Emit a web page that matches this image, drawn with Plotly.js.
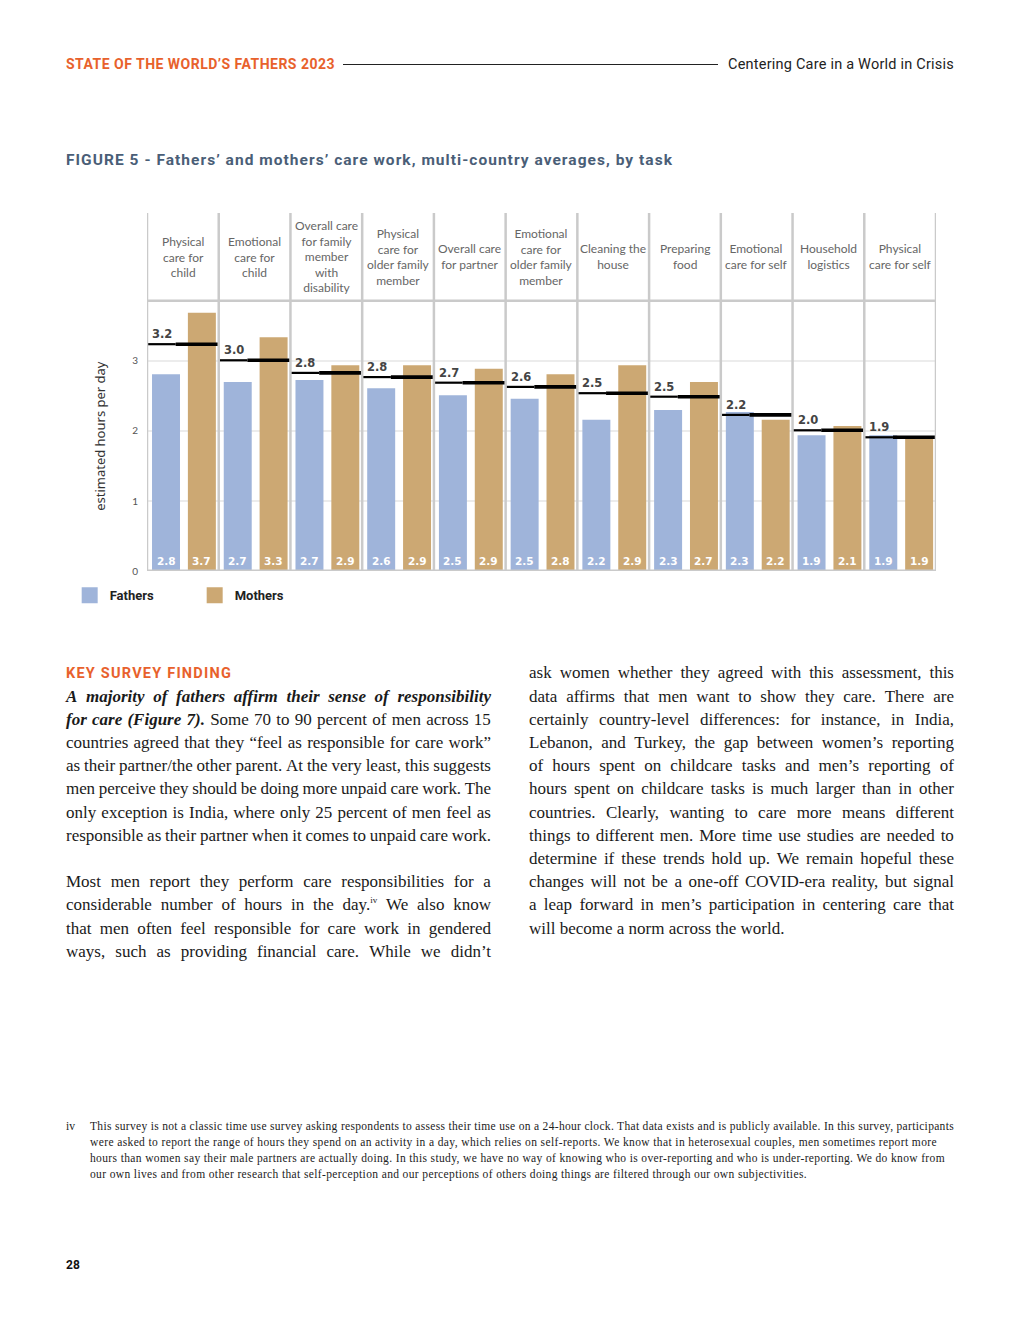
<!DOCTYPE html>
<html><head><meta charset="utf-8">
<script src="https://cdn.plot.ly/plotly-3.0.1.min.js"></script>
<style>
body{margin:0;width:1020px;height:1320px;background:#fff;position:relative;overflow:hidden;font-family:"Liberation Serif",serif;color:#1a1a1a;}
.abs{position:absolute;white-space:nowrap;}
#hdrL{left:66px;top:56px;font:700 14px Roboto,sans-serif;color:#e8612c;line-height:16px;}
#hdrLine{left:343px;top:64px;width:375px;height:1px;background:#222;}
#hdrR{left:728px;top:57px;font:400 14.5px Roboto,sans-serif;color:#222;line-height:16px;}
#figT{left:66px;top:151px;font:700 15.5px Roboto,sans-serif;color:#4a5e77;line-height:18px;}
#chart{position:absolute;left:0;top:190px;width:1020px;height:480px;}
.key{font:700 14.5px Roboto,sans-serif;color:#e8612c;}
.ln{position:absolute;height:23.2px;line-height:23.2px;font-size:17px;white-space:nowrap;}
.just{display:flex;justify-content:space-between;}
.bi{font-weight:700;font-style:italic;}
sup{font-size:9px;line-height:0;vertical-align:7px;}
.fn{position:absolute;font-size:11.5px;line-height:16px;white-space:nowrap;color:#222;}
#pnum{left:66px;top:1258px;font:700 12px Roboto,sans-serif;color:#111;}
</style></head><body>
<div id="hdrL" class="abs">STATE OF THE WORLD’S FATHERS 2023</div>
<div id="hdrLine" class="abs"></div>
<div id="hdrR" class="abs">Centering Care in a World in Crisis</div>
<div id="figT" class="abs">FIGURE 5 - Fathers’ and mothers’ care work, multi-country averages, by task</div>
<div id="chart"></div>
<div id="body"></div>
<div id="pnum" class="abs">28</div>
<script>
// ---- data ----
const categories = ["Physical<br>care for<br>child","Emotional<br>care for<br>child","Overall care<br>for family<br>member<br>with<br>disability","Physical<br>care for<br>older family<br>member","Overall care<br>for partner","Emotional<br>care for<br>older family<br>member","Cleaning the<br>house","Preparing<br>food","Emotional<br>care for self","Household<br>logistics","Physical<br>care for self"];
const fathers = [2.81,2.70,2.73,2.61,2.51,2.46,2.16,2.30,2.27,1.94,1.94];
const mothers = [3.69,3.34,2.94,2.94,2.89,2.81,2.94,2.70,2.16,2.07,1.90];
const averages = [3.24,3.01,2.83,2.77,2.69,2.63,2.54,2.49,2.23,2.01,1.91];
const yTicks = [0,1,2,3];
const seriesNames = ["Fathers","Mothers"];
const seriesColors = ['#9fb4da','#cca873'];
const yTitle = "estimated hours per day";

// ---- chart ----
const idx = categories.map((c,i)=>i);
const FW=0.39, FO=-0.43, MO=0.07;
const yTop = 5.114, headerBottom = 3.86, headerMid = 4.49;
const thinX=[],thinY=[],thickX=[],thickY=[];
averages.forEach((a,i)=>{thinX.push(i-0.5,i-0.1,null);thinY.push(a,a,null);thickX.push(i-0.1,i+0.5,null);thickY.push(a,a,null);});
const traces = [
 {type:'bar',x:idx,y:fathers,width:FW,offset:FO,name:seriesNames[0],marker:{color:seriesColors[0]},hoverinfo:'skip',showlegend:false},
 {type:'bar',x:idx,y:mothers,width:FW,offset:MO,name:seriesNames[1],marker:{color:seriesColors[1]},hoverinfo:'skip',showlegend:false},
 {type:'scatter',mode:'lines',x:thinX,y:thinY,line:{color:'#000',width:2.2},showlegend:false,hoverinfo:'skip'},
 {type:'scatter',mode:'lines',x:thickX,y:thickY,line:{color:'#000',width:3.6},showlegend:false,hoverinfo:'skip'},
 {type:'scatter',mode:'markers',x:[null],y:[null],name:seriesNames[0],marker:{symbol:'square',size:17,color:seriesColors[0]},showlegend:true},
 {type:'scatter',mode:'markers',x:[null],y:[null],name:seriesNames[1],marker:{symbol:'square',size:17,color:seriesColors[1]},showlegend:true}
];
const shapes=[];
for(let i=0;i<=categories.length;i++){
 shapes.push({type:'line',xref:'x',yref:'paper',x0:i-0.5,x1:i-0.5,y0:0,y1:1,line:{color:'#cacaca',width:2.5}});
}
shapes.push({type:'line',xref:'paper',yref:'y',x0:0,x1:1,y0:headerBottom,y1:headerBottom,line:{color:'#cacaca',width:2.5}});
shapes.push({type:'line',xref:'paper',yref:'y',x0:0,x1:1,y0:0,y1:0,line:{color:'#cacaca',width:3}});
const ann=[];
categories.forEach((c,i)=>{
 ann.push({x:i,y:headerMid,xref:'x',yref:'y',text:c,showarrow:false,font:{family:'Lato',size:12,color:'#666'},align:'center'});
 ann.push({x:i-0.5,y:averages[i],xref:'x',yref:'y',xanchor:'left',yanchor:'bottom',xshift:3,yshift:1,text:'<b>'+averages[i].toFixed(1)+'</b>',showarrow:false,font:{family:'DejaVu Sans',size:11.5,color:'#444'}});
 ann.push({x:i+FO+FW/2,y:0,xref:'x',yref:'y',yanchor:'bottom',yshift:2,text:'<b>'+fathers[i].toFixed(1)+'</b>',showarrow:false,font:{family:'DejaVu Sans',size:10.5,color:'#fff'}});
 ann.push({x:i+MO+FW/2,y:0,xref:'x',yref:'y',yanchor:'bottom',yshift:2,text:'<b>'+mothers[i].toFixed(1)+'</b>',showarrow:false,font:{family:'DejaVu Sans',size:10.5,color:'#fff'}});
});
ann.push({xref:'paper',yref:'y',x:-0.0596,y:headerBottom/2,text:yTitle,textangle:-90,showarrow:false,xanchor:'center',yanchor:'middle',font:{family:'Noto Sans',size:13,color:'#333'}});
const layout={
 width:1020,height:480,margin:{l:147,r:84,t:23,b:99},
 paper_bgcolor:'rgba(0,0,0,0)',plot_bgcolor:'rgba(0,0,0,0)',
 barmode:'overlay',showlegend:true,
 xaxis:{range:[-0.5,categories.length-0.5],showticklabels:false,showgrid:false,zeroline:false,showline:false,fixedrange:true},
 yaxis:{range:[0,yTop],tickvals:yTicks,ticktext:yTicks.map(String),showgrid:true,gridcolor:'#ececec',gridwidth:1.5,zeroline:false,showline:false,ticks:'',ticklabelstandoff:8,
  tickfont:{family:'Lato',size:10,color:'#555'},automargin:false},
 legend:{orientation:'h',x:-0.098,y:-0.026,xanchor:'left',yanchor:'top',font:{family:'Roboto',size:13,color:'#222',weight:700},entrywidth:80,entrywidthmode:'pixels',traceorder:'normal'},
 shapes:shapes,annotations:ann
};
Plotly.newPlot('chart',traces,layout,{displayModeBar:false,staticPlot:true});

// ---- body text ----
const leftLines=[
 {t:'KEY SURVEY FINDING',key:1},
 {t:'*A *majority *of *fathers *affirm *their *sense *of *responsibility',j:1},
 {t:'*for *care *(Figure *7). Some 70 to 90 percent of men across 15',j:1},
 {t:'countries agreed that they “feel as responsible for care work”',j:1},
 {t:'as their partner/the other parent. At the very least, this suggests',j:1},
 {t:'men perceive they should be doing more unpaid care work. The',j:1},
 {t:'only exception is India, where only 25 percent of men feel as',j:1},
 {t:'responsible as their partner when it comes to unpaid care work.',j:1},
 null,
 {t:'Most men report they perform care responsibilities for a',j:1},
 {t:'considerable number of hours in the day.^iv We also know',j:1},
 {t:'that men often feel responsible for care work in gendered',j:1},
 {t:'ways, such as providing financial care. While we didn’t',j:1}
];
const rightLines=[
 'ask women whether they agreed with this assessment, this',
 'data affirms that men want to show they care. There are',
 'certainly country-level differences: for instance, in India,',
 'Lebanon, and Turkey, the gap between women’s reporting',
 'of hours spent on childcare tasks and men’s reporting of',
 'hours spent on childcare tasks is much larger than in other',
 'countries. Clearly, wanting to care more means different',
 'things to different men. More time use studies are needed to',
 'determine if these trends hold up. We remain hopeful these',
 'changes will not be a one-off COVID-era reality, but signal',
 'a leap forward in men’s participation in centering care that',
 'will become a norm across the world.'
].map((t,i,a)=>({t:t,j:i<a.length-1?1:0}));
const bodyEl=document.getElementById('body');
function wordHtml(w){
 let bi=false; if(w[0]==='*'){bi=true;w=w.slice(1);}
 w=w.replace('^iv','<sup>iv</sup>');
 return bi?'<span class="bi">'+w+'</span>':'<span>'+w+'</span>';
}
function place(lines,left,width,firstCenter){
 lines.forEach((L,k)=>{
  if(!L) return;
  const d=document.createElement('div');
  d.className='ln';
  d.style.left=left+'px'; d.style.top=(firstCenter+k*23.2-11.6)+'px';
  if(L.key){d.innerHTML='<span class="key">'+L.t+'</span>';}
  else if(L.j){d.classList.add('just');d.style.width=width+'px';d.innerHTML=L.t.split(' ').map(wordHtml).join('');}
  else{d.innerHTML=L.t.split(' ').map(wordHtml).join(' ');}
  bodyEl.appendChild(d);
  if(L.j){
   const spans=[...d.children]; let sum=0,chars=0;
   spans.forEach(s=>{sum+=s.getBoundingClientRect().width;chars+=s.textContent.length;});
   const need=sum+(spans.length-1)*3.8;
   if(need>width){d.style.letterSpacing=(-(need-width)/chars)+'px';}
  }
 });
}
place(leftLines,66,425,673);
place(rightLines,529,425,673);

// footnote
const footLines=[
 'This survey is not a classic time use survey asking respondents to assess their time use on a 24-hour clock. That data exists and is publicly available. In this survey, participants',
 'were asked to report the range of hours they spend on an activity in a day, which relies on self-reports. We know that in heterosexual couples, men sometimes report more',
 'hours than women say their male partners are actually doing. In this study, we have no way of knowing who is over-reporting and who is under-reporting. We do know from',
 'our own lives and from other research that self-perception and our perceptions of others doing things are filtered through our own subjectivities.'
];
const footWidths=[864,847,855,717];
function fit(el,target){
 const w=el.getBoundingClientRect().width; const n=el.textContent.length;
 el.style.letterSpacing=((target-w)/n)+'px';
}
const fm=document.createElement('div');fm.className='fn';fm.style.left='66px';fm.style.top='1118px';fm.textContent='iv';bodyEl.appendChild(fm);
footLines.forEach((t,k)=>{
 const d=document.createElement('div');d.className='fn';d.style.left='90px';d.style.top=(1118+k*16)+'px';d.textContent=t;bodyEl.appendChild(d);fit(d,footWidths[k]);
});
fit(document.getElementById('hdrL'),269);
fit(document.getElementById('hdrR'),226);
fit(document.getElementById('figT'),607);
fit(document.querySelector('.key'),166);
</script>
</body></html>
